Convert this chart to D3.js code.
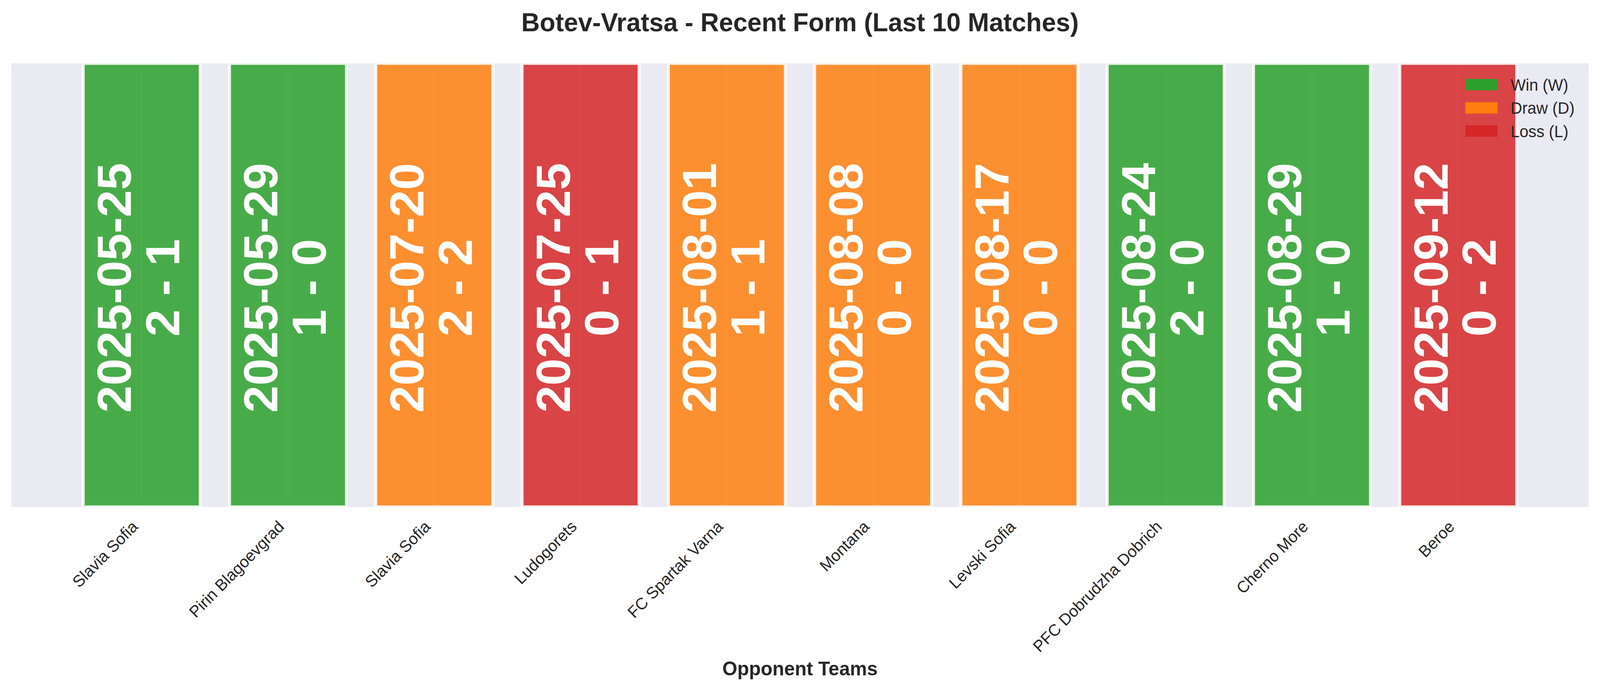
<!DOCTYPE html>
<html>
<head>
<meta charset="utf-8">
<script src="https://cdn.jsdelivr.net/npm/d3@7/dist/d3.min.js"></script>
<style>
  html, body { margin: 0; padding: 0; background: #ffffff; width: 100%; height: 100%; overflow: hidden; }
  svg { display: block; width: 100vw; height: 100vh; }
  text { font-family: "Liberation Sans", Arial, Helvetica, sans-serif; }
</style>
</head>
<body>
<svg id="chart" viewBox="0 0 4170 1768" preserveAspectRatio="none"></svg>
<script>
// ---- data ----
const opponents = ["Slavia Sofia", "Pirin Blagoevgrad", "Slavia Sofia", "Ludogorets", "FC Spartak Varna",
                   "Montana", "Levski Sofia", "PFC Dobrudzha Dobrich", "Cherno More", "Beroe"];
const matchDates = ["2025-05-25", "2025-05-29", "2025-07-20", "2025-07-25", "2025-08-01",
                    "2025-08-08", "2025-08-17", "2025-08-24", "2025-08-29", "2025-09-12"];
const scores = ["2 - 1", "1 - 0", "2 - 2", "0 - 1", "1 - 1", "0 - 0", "0 - 0", "2 - 0", "1 - 0", "0 - 2"];
const results = ["W", "W", "D", "L", "D", "D", "D", "W", "W", "L"];
const barValues = [1, 1, 1, 1, 1, 1, 1, 1, 1, 1];
const resultKeys = ["W", "D", "L"];
const legendLabels = ["Win (W)", "Draw (D)", "Loss (L)"];
const titleText = "Botev-Vratsa - Recent Form (Last 10 Matches)";
const xAxisTitle = "Opponent Teams";

// ---- layout ----
const W = 4170, H = 1768;
const axL = 30, axR = 4140, axT = 162, axB = 1297;
const svg = d3.select("#chart");
const idx = d3.range(opponents.length);

const color = d3.scaleOrdinal().domain(resultKeys).range(["#2ca02c", "#ff7f0e", "#d62728"]);
const x = d3.scaleLinear().domain([-0.89, opponents.length - 1 + 0.89]).range([axL, axR]);
const y = d3.scaleLinear().domain([0, 1]).range([axB, axT]);
const barW = x(0.8) - x(0);

// axes background
svg.append("rect").attr("x", axL).attr("y", axT)
  .attr("width", axR - axL).attr("height", axB - axT).attr("fill", "#eaeaf2");

// vertical grid lines (white) at tick positions
svg.append("g").selectAll("line").data(idx).join("line")
  .attr("x1", d => x(d)).attr("x2", d => x(d))
  .attr("y1", axT).attr("y2", axB)
  .attr("stroke", "#ffffff").attr("stroke-width", 4);

// bars
svg.append("g").selectAll("rect").data(idx).join("rect")
  .attr("x", d => x(d) - barW / 2)
  .attr("y", d => y(barValues[d]))
  .attr("width", barW)
  .attr("height", d => y(0) - y(barValues[d]))
  .attr("fill", d => color(results[d]))
  .attr("fill-opacity", 0.85)
  .attr("stroke", "#ffffff")
  .attr("stroke-opacity", 0.85)
  .attr("stroke-width", 8);

// in-bar labels (rotated, two lines)
const lbl = svg.append("g").selectAll("g").data(idx).join("g");
lbl.append("text")
  .attr("transform", d => `translate(${x(d) - 28},${y(barValues[d] * 0.494)}) rotate(-90)`)
  .attr("text-anchor", "middle")
  .attr("fill", "#ffffff").attr("font-weight", "bold").attr("font-size", 125)
  .text(d => matchDates[d]);
lbl.append("text")
  .attr("transform", d => `translate(${x(d) + 98},${y(barValues[d] * 0.494)}) rotate(-90)`)
  .attr("text-anchor", "middle")
  .attr("fill", "#ffffff").attr("font-weight", "bold").attr("font-size", 125)
  .text(d => scores[d]);

// x axis
const xAxis = d3.axisBottom(x).tickValues(idx).tickFormat(i => opponents[i]).tickSize(0);
const gx = svg.append("g").attr("transform", `translate(0,${axB})`).call(xAxis);
gx.select(".domain").remove();
gx.selectAll(".tick text")
  .attr("x", 0).attr("y", 0).attr("dy", null)
  .attr("transform", "translate(-8,53) rotate(-45)")
  .attr("text-anchor", "end")
  .attr("font-size", 41.7)
  .attr("font-family", "'Liberation Sans', Arial, sans-serif")
  .attr("fill", "#262626");

// x axis title
svg.append("text")
  .attr("x", (axL + axR) / 2).attr("y", 1728)
  .attr("text-anchor", "middle")
  .attr("font-size", 50).attr("font-weight", "bold").attr("fill", "#262626")
  .text(xAxisTitle);

// title
svg.append("text")
  .attr("x", W / 2).attr("y", 80)
  .attr("text-anchor", "middle")
  .attr("font-size", 66.7).attr("font-weight", "bold").attr("fill", "#262626")
  .text(titleText);

// legend
const lg = svg.append("g").attr("transform", "translate(3819,202)");
const rows = lg.selectAll("g").data(resultKeys).join("g")
  .attr("transform", (d, i) => `translate(0,${i * 59.5})`);
rows.append("rect").attr("width", 84).attr("height", 29).attr("fill", d => color(d));
rows.append("text").attr("x", 118).attr("y", 29.5)
  .attr("font-size", 41.7).attr("fill", "#262626")
  .text((d, i) => legendLabels[i]);
</script>
</body>
</html>
